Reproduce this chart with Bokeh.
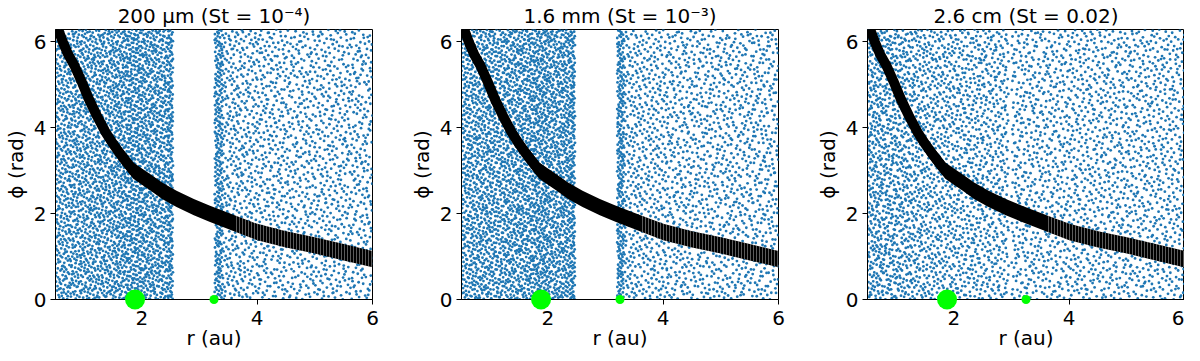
import numpy as np
from bokeh.plotting import figure
from bokeh.layouts import row
from bokeh.models import FixedTicker, Range1d
from bokeh.embed import file_html
from bokeh.resources import INLINE

# ---------------- data ----------------
titles = ["200 μm (St = 10⁻⁴)", "1.6 mm (St = 10⁻³)", "2.6 cm (St = 0.02)"]
x_ticks = [2, 4, 6]
y_ticks = [0, 2, 4, 6]

# spiral wake (black band): centre line, r in au, phi in rad
wake_r = [0.50, 0.55, 0.63, 0.72, 0.83, 0.95, 1.08, 1.22, 1.37, 1.50, 1.60, 1.72,
          1.85, 2.00, 2.14, 2.35, 2.60, 2.90, 3.17, 3.63, 4.00, 4.50, 5.00, 5.50, 6.00]
wake_phi = [6.45, 6.27, 5.98, 5.70, 5.44, 5.08, 4.66, 4.27, 3.89, 3.62, 3.43, 3.22,
            3.00, 2.86, 2.73, 2.53, 2.34, 2.15, 2.00, 1.76, 1.57, 1.40, 1.26, 1.10, 0.94]
# from this radius outward the wake is drawn as separated vertical strokes
wake_striped_from = 3.63

# planets (green dots) at phi = 0
planet_r = [1.88, 3.25]
planet_phi = [0.0, 0.0]

# dust particle counts per radial bin
p1_lo = [0.50, 0.75, 1.00, 1.25, 1.50, 1.75, 2.00, 2.25, 2.45, 3.26, 3.40, 3.75, 4.00, 4.50, 5.00, 5.50]
p1_hi = [0.75, 1.00, 1.25, 1.50, 1.75, 2.00, 2.25, 2.45, 2.54, 3.40, 3.75, 4.00, 4.50, 5.00, 5.50, 6.00]
p1_n = [320, 330, 340, 350, 390, 430, 390, 300, 180, 260, 260, 170, 320, 300, 300, 300]

p2_lo = [0.50, 0.75, 1.00, 1.25, 1.50, 1.75, 2.00, 2.25, 2.40, 3.20, 3.32, 3.60, 4.00, 4.50, 5.00, 5.50]
p2_hi = [0.75, 1.00, 1.25, 1.50, 1.75, 2.00, 2.25, 2.40, 2.47, 3.32, 3.60, 4.00, 4.50, 5.00, 5.50, 6.00]
p2_n = [350, 350, 350, 370, 400, 430, 380, 240, 150, 250, 200, 260, 310, 300, 300, 300]

p3_lo = [0.50, 0.75, 1.00, 1.25, 1.50, 1.75, 2.00, 2.50, 3.00, 3.50, 4.00, 4.50, 5.00, 5.50]
p3_hi = [0.75, 1.00, 1.25, 1.50, 1.75, 2.00, 2.50, 2.95, 3.50, 4.00, 4.50, 5.00, 5.50, 6.00]
p3_n = [290, 270, 250, 230, 210, 200, 380, 320, 300, 290, 290, 290, 290, 290]

panel_bins = [(p1_lo, p1_hi, p1_n), (p2_lo, p2_hi, p2_n), (p3_lo, p3_hi, p3_n)]

PHI_MAX = 2 * np.pi
BLUE = "#1f77b4"
GREEN = "#00ff00"
FONT = "DejaVu Sans"


def halton(idx, base):
    """deterministic low-discrepancy layout for the particle cloud"""
    i = np.array(idx, dtype=np.int64)
    res = np.zeros(i.shape, dtype=float)
    f = 1.0
    while np.any(i > 0):
        f /= base
        res += f * (i % base)
        i //= base
    return res


def cloud(lo, hi, n, start):
    rs, ps = [], []
    k = start
    for a, b, m in zip(lo, hi, n):
        idx = np.arange(k, k + m)
        rs.append(a + (b - a) * halton(idx, 2))
        ps.append(PHI_MAX * halton(idx, 3))
        k += m + 37
    return np.concatenate(rs), np.concatenate(ps)


LEFT = 47
FRAME_W = 317
EXTRA = 8          # bokeh reserves this much extra on the right
TOP = 27
BOTTOM = 50
HEIGHT = 352


def make_panel(i, right_border):
    p = figure(width=LEFT + FRAME_W + right_border + EXTRA, height=HEIGHT,
               x_range=Range1d(0.5, 6.0), y_range=Range1d(0, PHI_MAX),
               output_backend="svg", toolbar_location=None,
               min_border_left=LEFT, min_border_right=right_border,
               min_border_top=TOP, min_border_bottom=BOTTOM,
               title=titles[i], background_fill_color="white",
               border_fill_color="white")
    p.title.align = "center"
    p.title.text_font = FONT
    p.title.text_font_size = "20px"
    p.title.text_font_style = "normal"
    p.title.text_color = "black"
    p.title.standoff = 3

    p.xgrid.visible = False
    p.ygrid.visible = False
    p.outline_line_color = "black"
    p.outline_line_alpha = 1.0
    p.outline_line_width = 1

    p.xaxis.ticker = FixedTicker(ticks=x_ticks)
    p.yaxis.ticker = FixedTicker(ticks=y_ticks)
    p.xaxis.axis_label = "r (au)"
    p.yaxis.axis_label = "ϕ (rad)"
    for ax in (p.xaxis[0], p.yaxis[0]):
        ax.major_tick_in = 0
        ax.major_tick_out = 5
        ax.minor_tick_line_color = None
        ax.axis_line_color = "black"
        ax.major_tick_line_color = "black"
        ax.major_label_text_font = FONT
        ax.major_label_text_font_size = "20px"
        ax.major_label_text_color = "black"
        ax.axis_label_text_font = FONT
        ax.axis_label_text_font_size = "20px"
        ax.axis_label_text_font_style = "normal"
        ax.axis_label_text_color = "black"
    p.xaxis.major_label_text_line_height = 1.0
    p.xaxis.axis_label_text_line_height = 1.0
    p.xaxis.major_label_standoff = 6
    p.xaxis.axis_label_standoff = -2
    p.yaxis.major_label_standoff = 4
    p.yaxis.axis_label_standoff = 3

    lo, hi, n = panel_bins[i]
    r, ph = cloud(lo, hi, n, 1 + 9973 * i)
    p.scatter(r, ph, marker="circle", size=2.8, fill_color=BLUE, line_color=None)

    wr = np.array(wake_r)
    wp = np.array(wake_phi)
    half = 0.19
    p.varea(x=wr, y1=wp - half, y2=wp + half, fill_color="black")
    p.line(wr, wp, line_width=10, line_color="black", line_join="round")
    m = wr >= wake_striped_from
    p.varea(x=wr[m], y1=wp[m] - half, y2=wp[m] + half, fill_alpha=0,
            hatch_pattern="vertical_line", hatch_color="white",
            hatch_alpha=0.45, hatch_scale=3, hatch_weight=0.8)

    p.scatter(planet_r, planet_phi, marker="circle", size=[20, 9],
              fill_color=GREEN, line_color=None, level="overlay")
    return p


panels = [make_panel(0, 34), make_panel(1, 34), make_panel(2, 0)]
layout = row(*panels, spacing=0)

open("out.html", "w").write(file_html(layout, INLINE))
